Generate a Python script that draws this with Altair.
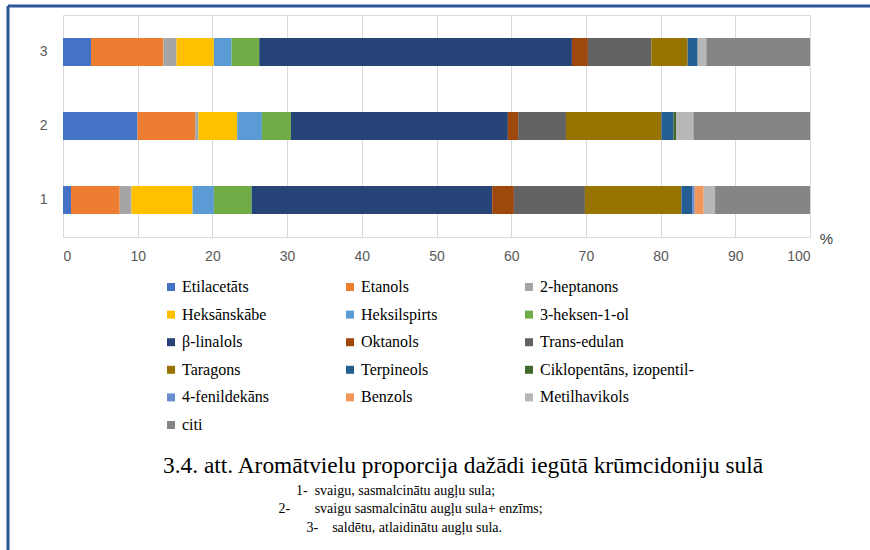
import altair as alt
import pandas as pd

samples = ["1", "2", "3"]
compounds = [
    "Etilacetāts", "Etanols", "2-heptanons", "Heksānskābe", "Heksilspirts",
    "3-heksen-1-ol", "β-linalols", "Oktanols", "Trans-edulan", "Taragons",
    "Terpineols", "Ciklopentāns, izopentil-", "4-fenildekāns", "Benzols",
    "Metilhavikols", "citi",
]
colors = [
    "#4472C4", "#ED7D31", "#A5A5A5", "#FFC000", "#5B9BD5", "#70AD47",
    "#264478", "#9E480E", "#636363", "#997300", "#255E91", "#43682B",
    "#698ED0", "#F1975A", "#B7B7B7", "#858585",
]
values_1 = [1.07, 6.53, 1.57, 8.17, 2.86, 5.05, 32.20, 2.91, 9.51, 12.91, 1.43, 0.00, 0.35, 1.21, 1.52, 12.71]
values_2 = [9.97, 7.73, 0.44, 5.18, 3.31, 3.88, 29.04, 1.38, 6.40, 12.77, 1.61, 0.36, 0.00, 0.00, 2.32, 15.61]
values_3 = [3.75, 9.70, 1.75, 5.00, 2.37, 3.70, 41.86, 2.14, 8.49, 4.86, 1.34, 0.00, 0.00, 0.00, 1.17, 13.87]
x_ticks = [0, 10, 20, 30, 40, 50, 60, 70, 80, 90, 100]

title_text = "3.4. att. Aromātvielu proporcija dažādi iegūtā krūmcidoniju sulā"
NB = "\u00a0"
ZW = "\u200b"
caption_lines = [
    ZW + NB * 38 + "1-" + NB * 2 + "svaigu, sasmalcinātu augļu sula;",
    ZW + NB * 33 + "2-" + NB * 7 + "svaigu sasmalcinātu augļu sula+ enzīms;",
    ZW + NB * 41 + "3-" + NB * 4 + "saldētu, atlaidinātu augļu sula.",
]

rows = []
for s, vals in zip(samples, [values_1, values_2, values_3]):
    for i, (c, v) in enumerate(zip(compounds, vals)):
        rows.append({"sample": s, "compound": c, "value": v, "idx": i})
df = pd.DataFrame(rows)

serif = "Liberation Serif, Times New Roman, serif"
sans = "Liberation Sans, Arial, sans-serif"

bars = alt.Chart(df).mark_bar(size=28).encode(
    x=alt.X(
        "value:Q",
        stack="zero",
        scale=alt.Scale(domain=[0, 100], nice=False),
        axis=alt.Axis(
            values=x_ticks, title="%", titleX=763, titleY=1, titleBaseline="middle",
            titleAlign="center", titleFont=sans, titleFontSize=15, titleFontWeight="normal",
            titleColor="#404040",
            labelFont=sans, labelFontSize=14, labelColor="#595959", labelPadding=12,
            grid=True, gridColor="#d9d9d9", gridWidth=1, domain=False, ticks=False,
        ),
    ),
    y=alt.Y(
        "sample:N",
        sort=["3", "2", "1"],
        scale=alt.Scale(paddingInner=0, paddingOuter=0),
        axis=alt.Axis(
            title=None, labelFont=sans, labelFontSize=14, labelColor="#595959",
            labelPadding=16, domain=False, ticks=False, grid=False,
        ),
    ),
    color=alt.Color(
        "compound:N",
        sort=compounds,
        scale=alt.Scale(domain=compounds, range=colors),
        legend=alt.Legend(
            title=None, orient="none", direction="horizontal", legendX=100, legendY=264,
            columns=3, gridAlign="all", columnPadding=6, rowPadding=11.6, padding=0,
            symbolType="square", symbolSize=64, symbolStrokeWidth=0,
            labelFont=serif, labelFontSize=16, labelColor="black", labelOffset=3,
            labelLimit=400,
        ),
    ),
    order=alt.Order("idx:Q"),
)

frame_df = pd.DataFrame({"k": [0]})
frame_top = alt.Chart(frame_df).mark_rule(color="#2F5597", strokeWidth=3).encode(
    x=alt.value(-55), x2=alt.value(900), y=alt.value(-9)
)
frame_left = alt.Chart(frame_df).mark_rule(color="#2F5597", strokeWidth=3).encode(
    x=alt.value(-55), y=alt.value(-9), y2=alt.value(535)
)

chart = alt.layer(bars, frame_top, frame_left).properties(
    width=747,
    height=222,
    autosize=alt.AutoSizeParams(type="none"),
    padding={"left": 63, "top": 15, "right": 60, "bottom": 313},
    title=alt.TitleParams(
        text=title_text, subtitle=caption_lines, orient="bottom", anchor="start",
        frame="group", dx=100, offset=-97,
        font=serif, fontSize=23.4, fontWeight="normal", color="black",
        subtitleFont=serif, subtitleFontSize=14, subtitleColor="black",
        subtitleLineHeight=18.5, subtitlePadding=6,
    ),
).configure_view(stroke=None).configure(background="white")

chart.save("out.html", embed_options={"renderer": "svg", "actions": False})
